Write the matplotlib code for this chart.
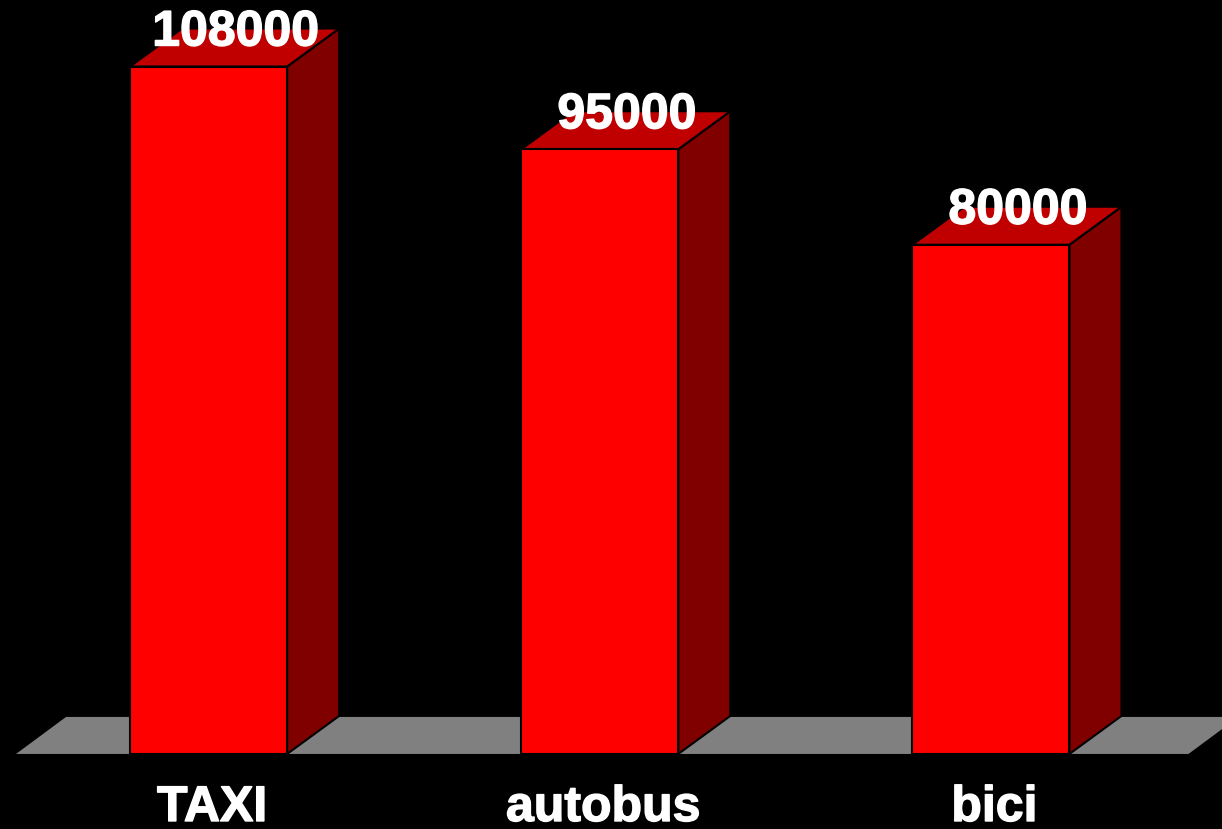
import matplotlib
matplotlib.use('Agg')
import matplotlib.pyplot as plt
import matplotlib.patheffects as pe
from matplotlib.patches import Polygon

categories = ['TAXI', 'autobus', 'bici']
values = [108000, 95000, 80000]

W, H = 1222, 829
# pixels per unit, baseline at y=754
scale = (754 - 67) / 108000
base = 754
bar_w = 157
dx, dy = 52, 38
lefts = [130, 521, 912]

plt.rcParams['font.family'] = ['Liberation Sans', 'DejaVu Sans']

fig = plt.figure(figsize=((W + 0.5) / 100, (H + 0.5) / 100), dpi=100, facecolor='black')
ax = fig.add_axes([0, 0, 1, 1])
ax.set_xlim(0, W)
ax.set_ylim(H, 0)
ax.axis('off')

bold = [pe.withStroke(linewidth=1.0, foreground='white')]

# floor
ax.add_patch(Polygon([(16, base), (1188, base), (1238, base - 37), (66, base - 37)],
                     closed=True, fc='#808080', ec='none', zorder=1))

for x, v, name in zip(lefts, values, categories):
    top = base - v * scale
    ax.add_patch(Polygon([(x + bar_w, base), (x + bar_w + dx, base - dy),
                          (x + bar_w + dx, top - dy), (x + bar_w, top)],
                         closed=True, fc='#800000', ec='black', lw=1.5, zorder=2))
    ax.add_patch(Polygon([(x, top), (x + bar_w, top), (x + bar_w + dx, top - dy), (x + dx, top - dy)],
                         closed=True, fc='#c00000', ec='black', lw=1.5, zorder=2))
    ax.add_patch(Polygon([(x, base), (x + bar_w, base), (x + bar_w, top), (x, top)],
                         closed=True, fc='#ff0000', ec='black', lw=1.5, zorder=3))
    ax.text(x + bar_w / 2 + 27, top - 34, str(v), color='white', fontsize=36, fontweight='bold',
            ha='center', va='center', zorder=4, path_effects=bold)
    ax.text(x + bar_w / 2 + 3.5, 808, name, color='white', fontsize=36, fontweight='bold',
            ha='center', va='center', zorder=4, path_effects=bold)

fig.savefig('out.png', dpi=100, facecolor='black')
